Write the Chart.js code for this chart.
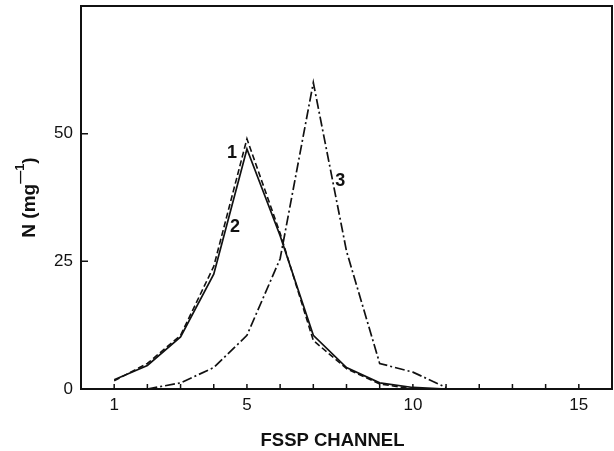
<!DOCTYPE html>
<html>
<head>
<meta charset="utf-8">
<style>
  html, body { margin: 0; padding: 0; background: #fff; }
  #wrap { width: 614px; height: 451px; }
</style>
<script src="https://cdn.jsdelivr.net/npm/chart.js@4.4.1/dist/chart.umd.min.js"></script>
</head>
<body>
<div id="wrap"><canvas id="fsspChart" width="614" height="451"></canvas></div>
<script>
// FSSP size distributions, N per channel
const channels1 = [1, 2, 3, 4, 5, 6, 7, 8, 9, 10];
const curve1 = [1.6, 5, 10.5, 24, 49, 30.5, 9.5, 4, 1, 0];

const channels2 = [1, 2, 3, 4, 5, 6, 7, 8, 9, 10, 11];
const curve2 = [1.8, 4.6, 10.2, 22.5, 47, 30, 10.5, 4.2, 1.2, 0.3, 0];

const channels3 = [2, 3, 4, 5, 6, 7, 8, 9, 10, 11];
const curve3 = [0, 1.2, 4.2, 10.5, 25.5, 60, 27, 5, 3.3, 0.3];

const xTickLabels = [1, 5, 10, 15];
const yTickLabels = [0, 25, 50];

// curve numbers written beside the lines: [text, channel, N]
const curveTags = [
  ['1', 4.55, 46.3],
  ['2', 4.64, 31.8],
  ['3', 7.81, 40.8]
];

const FONT = "'Liberation Sans', Arial, Helvetica, sans-serif";
const INK = '#111';

function toPoints(xs, ys) {
  return xs.map(function (x, i) { return { x: x, y: ys[i] }; });
}

// y title with a real superscript: N (mg^-1)
function drawYTitle(ctx, cx, cy) {
  const main = 'bold 19px ' + FONT;
  const sup = 'bold 13px ' + FONT;
  const parts = [['N (mg', main, 0], ['\u20141', sup, -11], [')', main, 0]];
  let total = 0;
  parts.forEach(function (p) { ctx.font = p[1]; total += ctx.measureText(p[0]).width; });
  ctx.save();
  ctx.translate(cx, cy);
  ctx.rotate(-Math.PI / 2);
  ctx.textAlign = 'left';
  ctx.textBaseline = 'alphabetic';
  let x = -total / 2;
  parts.forEach(function (p) {
    ctx.font = p[1];
    ctx.fillText(p[0], x, p[2]);
    x += ctx.measureText(p[0]).width;
  });
  ctx.restore();
}

// box round the plot, inward tick marks, axis titles and curve numbers
const framePlugin = {
  id: 'frame',
  afterDatasetsDraw: function (chart) {
    const ctx = chart.ctx;
    const area = chart.chartArea;
    const xs = chart.scales.x;
    const ys = chart.scales.y;
    ctx.save();
    ctx.strokeStyle = INK;
    ctx.lineWidth = 2;
    ctx.strokeRect(area.left, area.top, area.right - area.left, area.bottom - area.top);

    ctx.lineWidth = 1.5;
    ctx.beginPath();
    for (let c = 1; c < 16; c++) {
      const px = xs.getPixelForValue(c);
      ctx.moveTo(px, area.bottom);
      ctx.lineTo(px, area.bottom - 5);
    }
    yTickLabels.forEach(function (v) {
      const py = ys.getPixelForValue(v);
      ctx.moveTo(area.left, py);
      ctx.lineTo(area.left + 7, py);
    });
    ctx.stroke();

    ctx.fillStyle = INK;
    ctx.font = 'bold 18px ' + FONT;
    ctx.textAlign = 'center';
    ctx.textBaseline = 'middle';
    curveTags.forEach(function (t) {
      ctx.fillText(t[0], xs.getPixelForValue(t[1]), ys.getPixelForValue(t[2]));
    });

    ctx.font = 'bold 18.5px ' + FONT;
    ctx.fillText('FSSP CHANNEL', (area.left + area.right) / 2 - 14, 441);

    drawYTitle(ctx, 35, (area.top + area.bottom) / 2);
    ctx.restore();
  }
};

const ctx = document.getElementById('fsspChart').getContext('2d');
const fsspChart = new Chart(ctx, {
  type: 'line',
  data: {
    datasets: [
      {
        label: '1',
        data: toPoints(channels1, curve1),
        borderColor: INK,
        borderWidth: 1.6,
        borderDash: [6, 3]
      },
      {
        label: '2',
        data: toPoints(channels2, curve2),
        borderColor: INK,
        borderWidth: 1.7
      },
      {
        label: '3',
        data: toPoints(channels3, curve3),
        borderColor: INK,
        borderWidth: 1.7,
        borderDash: [10, 3, 2, 3]
      }
    ]
  },
  options: {
    responsive: false,
    animation: false,
    layout: { padding: { left: 0, right: 2, top: 6, bottom: 0 } },
    elements: {
      point: { radius: 0 },
      line: { tension: 0, fill: false }
    },
    scales: {
      x: {
        type: 'linear',
        min: 0,
        max: 16,
        grid: { display: false, drawTicks: false },
        border: { display: false },
        afterFit: function (scale) {
          scale.height = 62;
          scale.paddingLeft = 0;
          scale.paddingRight = 0;
        },
        ticks: {
          stepSize: 1,
          autoSkip: false,
          maxRotation: 0,
          padding: 6,
          color: INK,
          font: { family: FONT, size: 17 },
          callback: function (v) { return xTickLabels.includes(v) ? String(v) : ''; }
        }
      },
      y: {
        min: 0,
        max: 75,
        grid: { display: false, drawTicks: false },
        border: { display: false },
        afterFit: function (scale) {
          scale.width = 81;
          scale.paddingTop = 0;
          scale.paddingBottom = 0;
        },
        ticks: {
          stepSize: 25,
          padding: 8,
          color: INK,
          font: { family: FONT, size: 17 },
          callback: function (v) { return yTickLabels.includes(v) ? String(v) : ''; }
        }
      }
    },
    plugins: {
      legend: { display: false },
      tooltip: { enabled: false }
    }
  },
  plugins: [framePlugin]
});
</script>
</body>
</html>
